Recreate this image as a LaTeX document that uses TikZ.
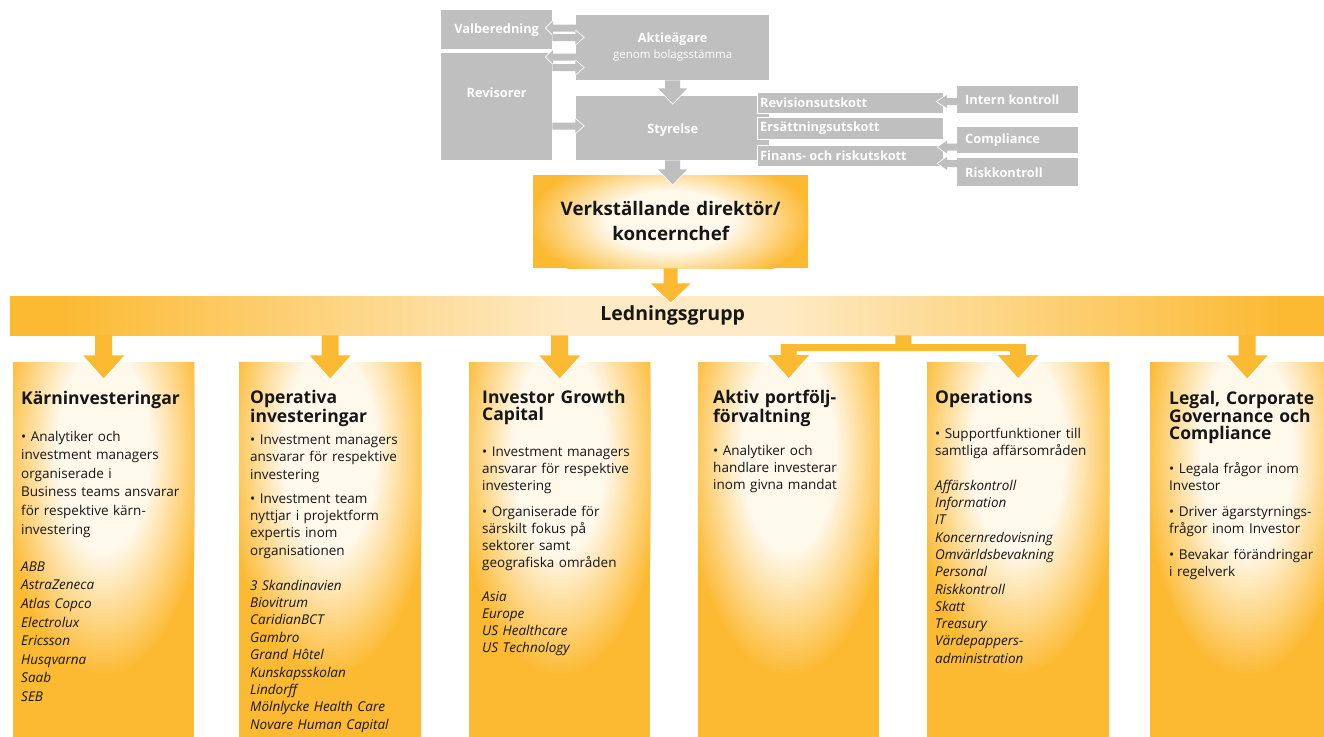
\documentclass[tikz,border=0pt]{standalone}
\usepackage{fontspec}
\setmainfont{Open Sans}
\usetikzlibrary{calc}
\definecolor{orng}{RGB}{252,186,51}
\definecolor{cream}{RGB}{255,249,236}
\definecolor{lcream}{RGB}{254,234,196}
\definecolor{gfill}{RGB}{191,191,191}
\definecolor{txt}{RGB}{22,22,22}
\pgfdeclarehorizontalshading{lbar}{100bp}{color(0bp)=(orng); color(27bp)=(orng); color(46bp)=(lcream); color(54bp)=(lcream); color(73bp)=(orng); color(100bp)=(orng)}
% radial glow built from stacked ellipses: centre, x radius, y radius, inner plateau fraction
\newcommand{\glowfill}[4]{%
  \foreach \gi in {0,...,59}{%
    \pgfmathsetmacro\gr{1-\gi/60}%
    \pgfmathsetmacro\gp{max(0,min(100,100*(1-\gr)/(1-#4)))}%
    \fill[cream!\gp!orng] #1 ellipse [x radius={\gr*#2pt}, y radius={\gr*#3pt}];}}
% vertical block arrow: style, start, stem half, stem length, head half, head length, outline style
\newcommand{\blockdown}[7]{%
  \draw[#7] ($#2+(-#5,#4)$) -- ++(#5,#6) -- ++(#5,-#6);
  \fill[#1] ($#2+(-#3,0)$) -- ++(0,#4) -- ++({#3-#5},0) -- ++(#5,#6) -- ++(#5,-#6) -- ++({#3-#5},0) -- ++(0,-#4) -- cycle;}
% horizontal block arrow: style, start, direction, stem half, stem length, head half, head length, outline style
\newcommand{\blockh}[8]{%
  \draw[#8] ($#2+({(#3)*(#5)},{-(#6)})$) -- ++({(#3)*(#7)},{#6}) -- ++({-(#3)*(#7)},{#6});
  \fill[#1] ($#2+(0,{-(#4)})$) -- ++({(#3)*(#5)},0) -- ++(0,{(#4)-(#6)}) -- ++({(#3)*(#7)},{#6}) -- ++({-(#3)*(#7)},{#6}) -- ++(0,{(#4)-(#6)}) -- ++({-(#3)*(#5)},0) -- cycle;}
\tikzset{
  gbox/.style={fill=gfill, inner sep=0pt, anchor=north west},
  cbox/.style={fill=gfill, draw=white, line width=0.8pt, inner sep=0pt, anchor=north west},
  gtxt/.style={text=white, font=\fontsize{12.8}{15}\selectfont\bfseries, inner sep=0pt},
  obox/.style={fill=orng, inner sep=0pt, anchor=north west, minimum height=380pt,
    path picture={\glowfill{([yshift=-90pt]path picture bounding box.north)}{105}{225}{0.45}}},
  wv/.style={draw=white, line width=1.6pt, line join=miter},
  hd/.style={anchor=base west, inner sep=0pt, text width=220pt, align=left, text=txt, font=\fontsize{17.5}{16.8}\selectfont\bfseries},
  bd/.style={anchor=base west, inner sep=0pt, text width=220pt, align=left, text=txt, font=\fontsize{13.5}{#1}\selectfont},
}
\begin{document}
\begin{tikzpicture}[x=1pt,y=-1pt]
\useasboundingbox (0,0) rectangle (1324,736);
% ---------- governance (gray) ----------
\node[gbox, gtxt, minimum width=111pt, minimum height=39pt] (valb) at (441,10) {Valberedning};
\node[gbox, minimum width=111pt, minimum height=107pt] (rev) at (441,53) {};
\node[gtxt] (revt) at ($(rev.north)+(0,40)$) {Revisorer};
\node[gbox, minimum width=193pt, minimum height=65pt] (akt) at (576,15) {};
\node[gtxt] (aktt) at ($(akt.north)+(0,24)$) {Aktieägare};
\node[gtxt, font=\fontsize{11.5}{14}\selectfont] (akts) at ($(akt.north)+(0,41)$) {genom bolagsstämma};
\node[gbox, minimum width=193pt, minimum height=64pt] (sty) at (576,96) {};
\node[gtxt] (styt) at ($(sty.north)+(0,34)$) {Styrelse};
\node[cbox, minimum width=186pt, minimum height=21pt] (ru) at (757,92) {};
\node[gtxt, anchor=west] (rut) at ($(ru.west)+(3,0)$) {Revisionsutskott};
\node[cbox, minimum width=186pt, minimum height=22pt] (eu) at (757,117) {};
\node[gtxt, anchor=west] (eut) at ($(eu.west)+(3,0)$) {Ersättningsutskott};
\node[cbox, minimum width=186pt, minimum height=21pt] (fu) at (757,145) {};
\node[gtxt, anchor=west] (fut) at ($(fu.west)+(3,0)$) {Finans- och riskutskott};
\node[gbox, minimum width=121pt, minimum height=27pt] (ik) at (957,86) {};
\node[gtxt, anchor=west] (ikt) at ($(ik.west)+(8,0)$) {Intern kontroll};
\node[gbox, minimum width=121pt, minimum height=26pt] (cp) at (957,127) {};
\node[gtxt, anchor=west] (cpt) at ($(cp.west)+(8,0)$) {Compliance};
\node[gbox, minimum width=121pt, minimum height=28pt] (rk) at (957,158) {};
\node[gtxt, anchor=west] (rkt) at ($(rk.west)+(8,0)$) {Riskkontroll};
\coordinate (ya1) at (0,28);
\coordinate (ya2) at (0,37.5);
\coordinate (ya3) at (0,57);
\coordinate (ya4) at (0,67.5);
\coordinate (ya5) at (0,126);
\coordinate (ya6) at (0,101.5);
\coordinate (ya7) at (0,147);
\coordinate (ya8) at (0,163.5);
\blockh{fill=gfill}{(akt.west |- ya1)}{-1}{3.5}{23}{7}{7}{wv}
\blockh{fill=gfill}{(valb.east |- ya2)}{1}{3.5}{23}{7}{8}{wv}
\blockh{fill=gfill}{(akt.west |- ya3)}{-1}{3.5}{23}{7}{7}{wv}
\blockh{fill=gfill}{(rev.east |- ya4)}{1}{3.5}{23}{7}{8}{wv}
\blockh{fill=gfill}{(rev.east |- ya5)}{1}{3.5}{23}{7}{8}{wv}
\blockh{fill=gfill}{(ik.west |- ya6)}{-1}{3.5}{10}{6.5}{10}{wv}
\blockh{fill=gfill}{(cp.west |- ya7)}{-1}{3.5}{10}{6.5}{9}{wv}
\blockh{fill=gfill}{(rk.west |- ya8)}{-1}{3.5}{10}{6.5}{9}{wv}
\blockdown{fill=gfill}{(akt.south)}{7.5}{8}{14.5}{15}{wv}
% ---------- CEO ----------
\node[fill=orng, inner sep=0pt, anchor=north west, minimum width=275pt, minimum height=93pt,
  path picture={\glowfill{(path picture bounding box.center)}{142}{68}{0.45}}] (vd) at (533,175) {};
\node[anchor=base, inner sep=0pt, text width=270pt, align=center, text=txt, font=\fontsize{18.7}{25}\selectfont\bfseries] (vdt) at ($(vd.north)+(0,40)$) {Verkställande direktör/\\koncernchef};
\blockdown{fill=gfill}{(sty.south)}{7.5}{9}{14.5}{15}{wv}
% ---------- management group ----------
\node[shade, shading=lbar, inner sep=0pt, anchor=north west, minimum width=1325pt, minimum height=39pt, text=txt, font=\fontsize{19.5}{22}\selectfont\bfseries] (lg) at (10,296) {Ledningsgrupp};
\blockdown{fill=orng}{(vd.south)}{7}{15}{20}{19}{wv}
% ---------- columns ----------
\node[obox, minimum width=181pt] (c1) at (13,362) {};
\node[obox, minimum width=182pt] (c2) at (239,362) {};
\node[obox, minimum width=181pt] (c3) at (469,362) {};
\node[obox, minimum width=181pt] (c4) at (698,362) {};
\node[obox, minimum width=182pt] (c5) at (927,362) {};
\node[obox, minimum width=194pt] (c6) at (1150,362) {};
\blockdown{fill=orng}{(lg.south -| c1.north)}{8.5}{20}{20.5}{23}{wv}
\blockdown{fill=orng}{(lg.south -| c2.north)}{8.5}{20}{20.5}{23}{wv}
\blockdown{fill=orng}{(lg.south -| c3.north)}{8.5}{20}{20.5}{23}{wv}
\blockdown{fill=orng}{(lg.south -| c6.north)}{8.5}{20}{20.5}{23}{wv}
\coordinate (bm) at ($(c4.north)!0.5!(c5.north)$);
\coordinate (hb) at (0,344);
\coordinate (hb2) at (0,351);
\coordinate (hdy) at (0,355);
\draw[wv] ($(hdy -| c4.north)+(-20.5,0)$) -- ++(20.5,23) -- ++(20.5,-23);
\draw[wv] ($(hdy -| c5.north)+(-20.5,0)$) -- ++(20.5,23) -- ++(20.5,-23);
\fill[orng] ($(lg.south -| bm)+(-8,0)$) -- ($(hb -| bm)+(-8,0)$) -- ($(hb -| c4.north)+(-8,0)$) -- ($(hdy -| c4.north)+(-8,0)$) -- ++(-12.5,0) -- ++(20.5,23) -- ++(20.5,-23) -- ++(-12.5,0) -- ($(hb2 -| c4.north)+(8,0)$) -- ($(hb2 -| c5.north)+(-8,0)$) -- ($(hdy -| c5.north)+(-8,0)$) -- ++(-12.5,0) -- ++(20.5,23) -- ++(20.5,-23) -- ++(-12.5,0) -- ($(hb -| c5.north)+(8,0)$) -- ($(hb -| bm)+(8,0)$) -- ($(lg.south -| bm)+(8,0)$) -- cycle;
% ---------- column texts ----------
\node[hd] (c1h) at (21,404) {Kärninvesteringar};
\node[bd=18.6] (c1b) at (21,441) {• Analytiker och\\investment managers\\organiserade i\\Business teams ansvarar\\för respektive kärn-\\investering\\[18.6pt]\itshape ABB\\AstraZeneca\\Atlas Copco\\Electrolux\\Ericsson\\Husqvarna\\Saab\\SEB};
\node[hd] (c2h) at (250,403.5) {Operativa\\investeringar};
\node[bd=17.4] (c2b) at (250,444.3) {• Investment managers\\ansvarar för respektive\\investering\\[6.5pt]• Investment team\\nyttjar i projektform\\expertis inom\\organisationen\\[17.4pt]\itshape 3 Skandinavien\\Biovitrum\\CaridianBCT\\Gambro\\Grand Hôtel\\Kunskapsskolan\\Lindorff\\Mölnlycke Health Care\\Novare Human Capital};
\node[hd] (c3h) at (482,403.3) {Investor Growth\\Capital};
\node[bd=17] (c3b) at (482,456) {• Investment managers\\ansvarar för respektive\\investering\\[9.7pt]• Organiserade för\\särskilt fokus på\\sektorer samt\\geografiska områden\\[17pt]\itshape Asia\\Europe\\US Healthcare\\US Technology};
\node[hd] (c4h) at (713,403.5) {Aktiv portfölj-\\förvaltning};
\node[bd=17] (c4b) at (713,455.5) {• Analytiker och\\handlare investerar\\inom givna mandat};
\node[hd] (c5h) at (935,403.3) {Operations};
\node[bd=17.3] (c5b) at (935,438.3) {• Supportfunktioner till\\samtliga affärsområden\\[17.3pt]\itshape Affärskontroll\\Information\\IT\\Koncernredovisning\\Omvärldsbevakning\\Personal\\Riskkontroll\\Skatt\\Treasury\\Värdepappers-\\administration};
\node[hd] (c6h) at (1169,404) {Legal, Corporate\\Governance och\\Compliance};
\node[bd=17] (c6b) at (1169,473) {• Legala frågor inom\\Investor\\[9pt]• Driver ägarstyrnings-\\frågor inom Investor\\[9pt]• Bevakar förändringar\\i regelverk};
\end{tikzpicture}
\end{document}
